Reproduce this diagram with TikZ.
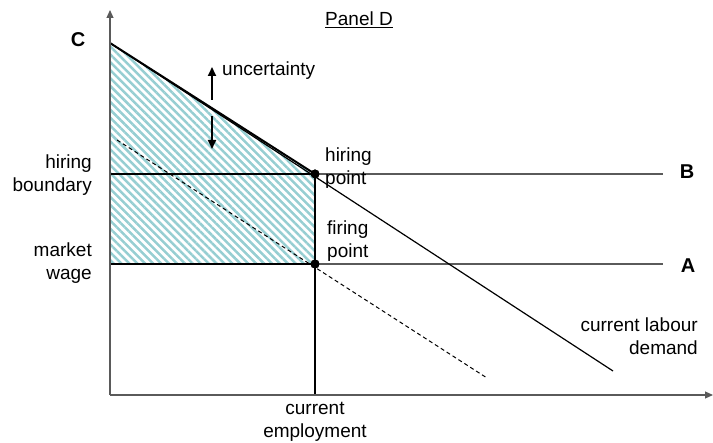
\documentclass[tikz,border=0pt]{standalone}
\usepackage{fontspec}
\setmainfont{Liberation Sans}
\usetikzlibrary{arrows.meta,patterns.meta}
\definecolor{hatchc}{RGB}{150,206,210}
\definecolor{axisc}{RGB}{90,90,90}
\tikzset{
  lbl/.style={font=\fontsize{19}{23}\selectfont, inner sep=0pt},
  bold/.style={font=\fontsize{20}{24}\selectfont\bfseries, inner sep=0pt},
  axis/.style={draw=axisc, line width=1.2pt, -{Triangle[length=8pt,width=7pt]}},
  thinline/.style={draw=axisc, line width=1.2pt},
  boundary/.style={draw=black, line width=2pt},
  dot/.style={circle, fill=black, inner sep=0pt, minimum size=9pt},
  uarrow/.style={draw=black, line width=1.8pt, -{Triangle[length=9pt,width=8pt]}}
}
\begin{document}
\begin{tikzpicture}[x=1pt,y=-1pt]
\useasboundingbox (0,0) rectangle (713,443);
% key points
\coordinate (O) at (110,395);
\coordinate (ytop) at (110,10);
\coordinate (xend) at (713,395);
\coordinate (Cpt) at (110,43);
\coordinate (Hb) at (110,174);
\coordinate (Mw) at (110,264);
\coordinate (Bend) at (663,174);
\coordinate (Aend) at (663,264);
\coordinate (Dend) at (613,371);
\coordinate (dstart) at (117,140);
\coordinate (dend) at (487,378);
\coordinate (base) at (315,395);
\node[dot] (hp) at (315,174) {};
\node[dot] (fp) at (315,264) {};
% hatched region
\fill[pattern={Lines[angle=-45,distance=5.6pt,line width=2.5pt]}, pattern color=hatchc]
  (Cpt) -- (hp.center) -- (fp.center) -- (Mw) -- cycle;
% lines
\draw[thinline] (hp.center) -- (Bend);
\draw[thinline] (fp.center) -- (Aend);
\draw[black, line width=1.2pt] (Cpt) -- (Dend);
\draw[black, line width=1pt, dash pattern=on 4pt off 3pt] (dstart) -- (dend);
\draw[boundary] (Cpt) -- (hp.center);
\draw[boundary] (Hb) -- (hp.center);
\draw[boundary] (Mw) -- (fp.center);
\draw[boundary] (hp.center) -- (base);
% axes
\draw[axis] (O) -- (ytop);
\draw[axis] (O) -- (xend);
\node[dot] at (hp) {};
\node[dot] at (fp) {};
% uncertainty arrows
\coordinate (ua1) at (212,100);
\coordinate (ua2) at (212,67);
\coordinate (da1) at (212,116);
\coordinate (da2) at (212,149);
\draw[uarrow] (ua1) -- (ua2);
\draw[uarrow] (da1) -- (da2);
% labels
\node[bold] (lC) at (78,40) {C};
\node[bold] (lB) at (687,172) {B};
\node[bold] (lA) at (688,266) {A};
\node[lbl, anchor=west] (panel) at (325,20) {\underline{Panel D}};
\node[lbl, anchor=west] (unc) at (222,71) {uncertainty};
\node[lbl, anchor=west, align=left] (hpl) at (325,168) {hiring\\point};
\node[lbl, anchor=west, align=left] (fpl) at (327,241) {firing\\point};
\node[lbl, anchor=east, align=right] (hbl) at (92,175) {hiring\\boundary};
\node[lbl, anchor=east, align=right] (mwl) at (92,263) {market\\wage};
\node[lbl, anchor=east, align=right] (cld) at (698,336) {current labour\\demand};
\node[lbl, align=center] (cel) at (315,422) {current\\employment};
\end{tikzpicture}
\end{document}
